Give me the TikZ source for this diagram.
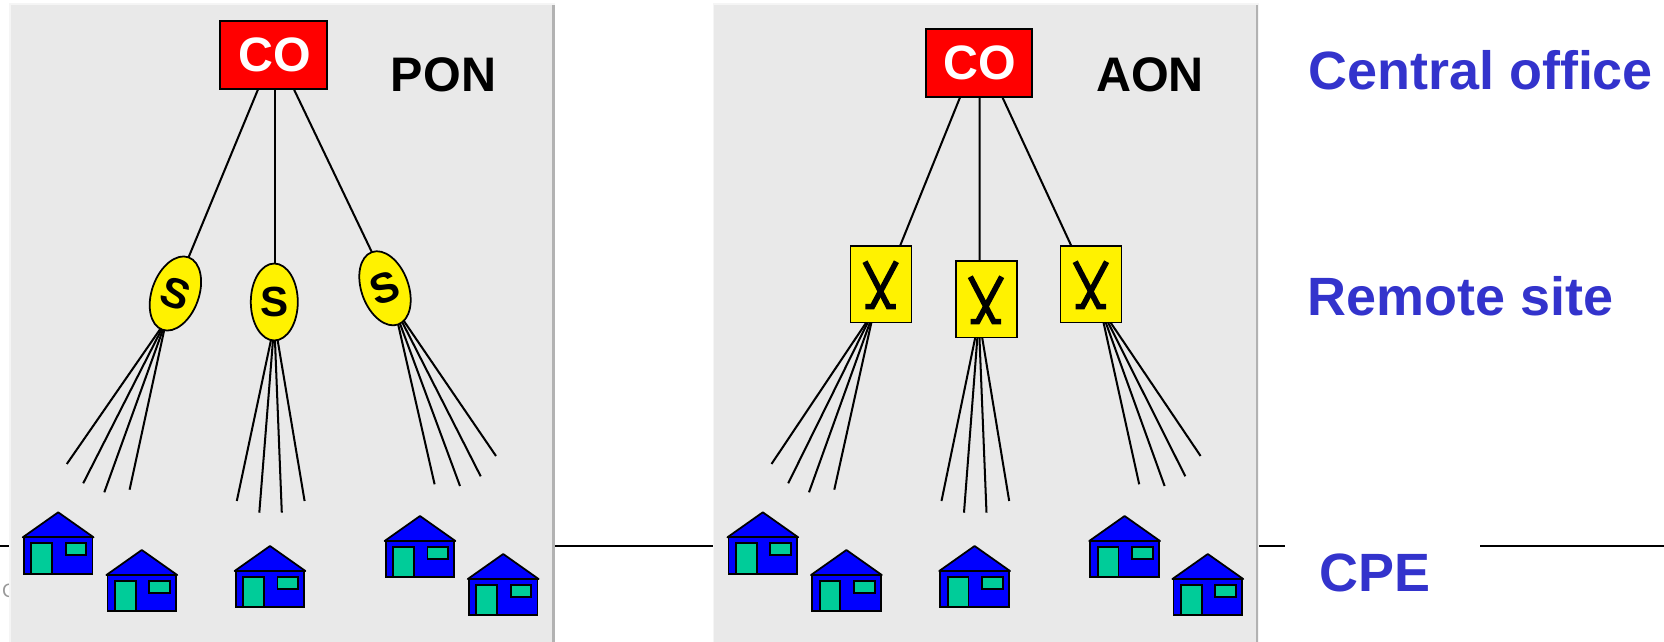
\documentclass[tikz,border=0pt]{standalone}
\usepackage{fontspec}
\setmainfont{Liberation Sans}
\usetikzlibrary{shapes.geometric}

\definecolor{panelgray}{HTML}{E9E9E9}
\definecolor{labelblue}{HTML}{3333CC}
\definecolor{doorgreen}{HTML}{00CC99}

\tikzset{
	wire/.style = {black, line width = 1.15pt},
	cobox/.style = {draw = black, line width = 1.1pt, fill = red, text = white, minimum width = 2.13cm, minimum height = 1.37cm, inner sep = 0pt, outer sep = 0pt, font = \fontsize{27.5}{30}\selectfont\bfseries},
	splitter/.style = {draw = black, line width = 1pt, fill = yellow, ellipse, minimum width = 0.94cm, minimum height = 1.54cm, inner sep = 0pt, outer sep = 0pt, font = \fontsize{24}{25}\selectfont\bfseries},
	switchbox/.style = {draw = black, line width = 1pt, fill = yellow, minimum width = 1.22cm, minimum height = 1.53cm, inner sep = 0pt, outer sep = 0pt},
	tag/.style = {anchor = base, inner sep = 0pt, font = \fontsize{27.6}{30}\selectfont\bfseries},
	level/.style = {anchor = base west, inner sep = 0pt, text = labelblue, font = \fontsize{30.7}{34}\selectfont\bfseries},
	pics/house/.style = {code = {
		\draw [line width = 1pt, line join = round, fill = blue] (-35.4,25) -- (0,0) -- (35.4,25) -- cycle;
		\draw [line width = 1.1pt, fill = blue] (-34.3,25) rectangle (34.3,61.4);
		\draw [line width = 1.1pt, fill = doorgreen] (-26.8,31) rectangle (-6.1,61.4);
		\draw [line width = 1.1pt, fill = doorgreen] (7.5,30.7) rectangle (28.2,43);
	}},
	pics/crossing/.style = {code = {
		\draw [line width = 3.2pt, miter limit = 10] (-15.9,-22.6) -- (7.5,22.3) -- (15,22.3);
		\draw [line width = 3.2pt, miter limit = 10] (15.5,-22.6) -- (-8.5,22.3) -- (-15.5,22.3);
	}}
}

\begin{document}
\begin{tikzpicture}[x = 0.02cm, y = -0.02cm]
	\useasboundingbox (0,0) rectangle (1664,642);

	\node [gray!80, font = \fontsize{11}{12}\selectfont] (copymark) at (9,591) {C};

	\coordinate (cpea) at (0,546);
	\coordinate (cpeb) at (1284.6,546);
	\coordinate (cpec) at (1480,546);
	\coordinate (cped) at (1664,546);
	\draw [line width = 1.2pt] (cpea) -- (cpeb);
	\draw [line width = 1.2pt] (cpec) -- (cped);

	\foreach \l/\r in {10.7/552,714.3/1255.5}
	{
		\fill [gray!8] (\l-1.5,3.5) rectangle (\r+3,642);
		\fill [gray!60] (\r,5) rectangle (\r+2.5,642);
		\fill [panelgray] (\l,5) rectangle (\r,642);
	}

	\node [cobox] (co1) at (273.6,55.2) {\hspace{1pt}\raisebox{-2.2pt}{CO}};
	\node [cobox] (co2) at (978.8,63.2) {\hspace{1pt}\raisebox{-2.2pt}{CO}};

	\node [tag] (pon) at (443.5,91.7) {PON};
	\node [tag] (aon) at (1150,91.7) {AON};

	\node [splitter, rotate = -20] (s1) at (175.4,293.5) {S};
	\node [splitter] (s2) at (274.3,302) {S};
	\node [splitter, rotate = 20] (s3) at (385,288.3) {S};

	\node [switchbox] (x1) at (880.9,284.3) {};
	\node [switchbox] (x2) at (986.2,299.3) {};
	\node [switchbox] (x3) at (1091.1,284.3) {};

	\foreach \n in {x1,x2,x3}
	{
		\pic at (\n) {crossing};
	}

	\draw [wire] ([shift = {(-15.6,0)}]co1.south) -- (s1.north);
	\draw [wire] ([shift = {(1,0)}]co1.south) -- ([shift = {(0.3,0)}]s2.north);
	\draw [wire] ([shift = {(20.4,0)}]co1.south) -- (s3.north);

	\draw [wire] ([shift = {(-18.8,0)}]co2.south) -- ([shift = {(19.1,0)}]x1.north);
	\draw [wire] ([shift = {(0.8,0)}]co2.south) -- ([shift = {(-6.6,0)}]x2.north);
	\draw [wire] ([shift = {(23.7,0)}]co2.south) -- ([shift = {(-19.7,0)}]x3.north);

	\foreach \n/\a/\x/\y [count = \i] in {
		s1/267/66.8/464, s1/269/83.2/483.3, s1/271/104.3/492.3, s1/273/129.6/489.7,
		s2/265/236.8/501, s2/268.5/259.3/512.7, s2/271.5/281.8/512.7, s2/275/304.6/501,
		s3/270/434.6/484.3, s3/273.5/460/486, s3/277/480.7/476.3, s3/280/496/456,
		x1/249/771.5/464, x1/251.5/788.2/483.3, x1/254/809/492.3, x1/256/834.3/489.7,
		x2/254/941.5/501, x2/257/964/512.7, x2/260/986.5/512.7, x2/264/1009.2/501,
		x3/288/1139.2/484.3, x3/291/1164.6/486, x3/294/1185.3/476.3, x3/297/1200.6/456}
	{
		\coordinate (fan\i) at (\x,\y);
		\draw [wire] (\n.\a) -- (fan\i);
	}

	\foreach \n/\x/\y in {h1/58.2/512.3,h2/141.8/550,h3/270/546,h4/420/516,h5/503.2/554,h6/762.8/512.3,h7/846.4/550,h8/974.6/546,h9/1124.6/516,h10/1207.8/554}
	{
		\pic (\n) at (\x,\y) {house};
	}

	\node [level] (central) at (1308,90) {Central office};
	\node [level] (remote) at (1307,315.3) {Remote site};
	\node [level] (cpe) at (1319,591.7) {CPE};
\end{tikzpicture}
\end{document}
